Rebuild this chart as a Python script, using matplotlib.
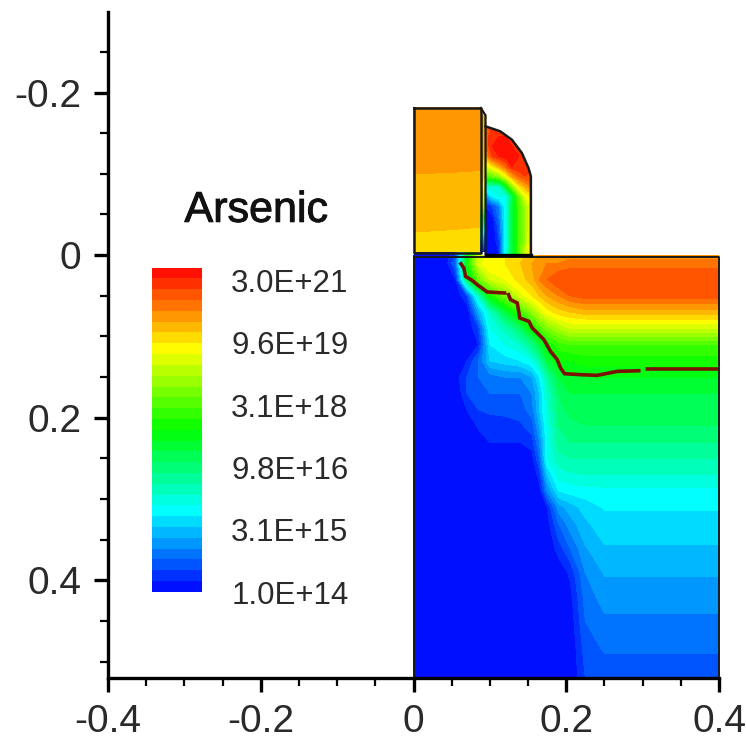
import numpy as np
import matplotlib
matplotlib.use("Agg")
import matplotlib.pyplot as plt
import matplotlib.patheffects as pe
from matplotlib.colors import LinearSegmentedColormap, Normalize
from matplotlib.patches import Polygon
from matplotlib.ticker import MultipleLocator

plt.rcParams['font.family'] = ['Liberation Sans', 'DejaVu Sans']

# arsenic levels are given as colour band numbers, 0 = 1.0E+14 up to 30 = 3.0E+21
n_bands = 30
legend_labels = ['3.0E+21', '9.6E+19', '3.1E+18', '9.8E+16', '3.1E+15', '1.0E+14']
legend_y = [0.0350, 0.1118, 0.1886, 0.2654, 0.3420, 0.4188]
x_ticks = [-0.4, -0.2, 0, 0.2, 0.4]
y_ticks = [-0.2, 0, 0.2, 0.4]

# silicon
si_x = [0, .04, .055, .07, .085, .10, .12, .14, .155, .165, .175, .19, .205, .225, .25, .30, .40]
si_y = [0, .01, .03, .05, .07, .09, .11, .13, .15, .17, .19, .21, .23, .25, .27, .29, .31, .33,
        .36, .39, .42, .45, .48, .52]
si_band = [
    [0, 0, 2, 14, 21, 22.5, 23, 23.5, 24.5, 25, 25.5, 25.5, 25.5, 25.5, 25.5, 25.5, 25.5],
    [0, 0, 3, 15, 21.5, 23, 23, 24, 25, 25.5, 26, 26, 26.5, 26.5, 26.5, 26.5, 26.5],
    [0, 0, 1, 12, 18, 21, 22, 23.5, 24.5, 26, 27, 28, 28, 28, 28, 28, 28],
    [0, 0, 0, 2, 9, 15, 18.5, 21.5, 23, 24, 25, 26, 27, 27.5, 27.5, 27.5, 27.5],
    [0, 0, 0, 0, 5, 9, 13, 16.5, 19, 21, 22.5, 23.5, 24, 24.5, 24.5, 24.5, 24.5],
    [0, 0, 0, 0, 2, 8, 9.5, 12, 15, 17, 18.5, 20, 21, 21, 21, 21, 21],
    [0, 0, 0, 0, 1, 7, 8, 9, 11, 13, 15, 16.5, 17, 17, 17, 17, 17],
    [0, 0, 0, 1, 3, 6, 6.5, 7, 8, 10, 13, 15, 15, 15.5, 15.5, 15.5, 15.5],
    [0, 0, .5, 2, 3, 3.5, 4, 4, 5, 7, 10, 13, 13.5, 14, 14, 14, 14],
    [0, 0, 0, 2, 2.5, 3, 3, 3, 4, 6, 9, 12, 13, 13, 13, 13, 13],
    [0, 0, 0, 1, 2, 2.2, 2.2, 2.5, 3.5, 6, 8.5, 11.5, 12.5, 12.5, 12.5, 12.5, 12.5],
    [0, 0, 0, 0, 1.2, 1.5, 1.7, 1.8, 2.5, 5, 8, 11, 11.5, 12, 12, 12, 12],
    [0, 0, 0, 0, .3, 1, 1, 1, 1.5, 4, 7.8, 10.5, 11, 11, 11, 11, 11],
    [0, 0, 0, 0, 0, 0, 0, 0, .5, 3, 8, 9.5, 10, 10, 10, 10, 10],
    [0, 0, 0, 0, 0, 0, 0, 0, 0, 1.5, 6, 8.5, 8.8, 9, 9, 9, 9],
    [0, 0, 0, 0, 0, 0, 0, 0, 0, .5, 4, 7, 7.4, 7.6, 7.7, 7.7, 7.7],
    [0, 0, 0, 0, 0, 0, 0, 0, 0, 0, 1, 4.5, 5.5, 6.4, 7.1, 7.1, 7.1],
    [0, 0, 0, 0, 0, 0, 0, 0, 0, 0, .5, 3, 4.5, 5.8, 6.6, 6.6, 6.6],
    [0, 0, 0, 0, 0, 0, 0, 0, 0, 0, 0, 1.5, 3, 4.9, 5.9, 5.9, 5.9],
    [0, 0, 0, 0, 0, 0, 0, 0, 0, 0, 0, .3, 1.2, 4, 5.1, 5.1, 5.1],
    [0, 0, 0, 0, 0, 0, 0, 0, 0, 0, 0, 0, .6, 3.4, 4.45, 4.45, 4.45],
    [0, 0, 0, 0, 0, 0, 0, 0, 0, 0, 0, 0, .3, 3, 3.8, 3.8, 3.8],
    [0, 0, 0, 0, 0, 0, 0, 0, 0, 0, 0, 0, .1, 2.5, 3.2, 3.2, 3.2],
    [0, 0, 0, 0, 0, 0, 0, 0, 0, 0, 0, 0, 0, 2, 2.4, 2.4, 2.4],
]

# spacer
sp_x = [.0943, .103, .112, .121, .129, .138, .147, .154]
sp_y = [-.1584, -.1461, -.1338, -.1215, -.1092, -.0969, -.0846, -.0723, -.060, -.0395, -.019, -.0006]
sp_band = [
    [27, 28, 28, 27, 26, 26, 26, 26],
    [27, 29, 29, 29, 28, 27, 27, 27],
    [27, 29, 29.5, 29.5, 29, 28.5, 27, 27],
    [25, 28, 29, 29.5, 29.5, 29, 28, 27],
    [21, 23, 25, 27, 29, 29, 28.5, 28],
    [17, 18, 19, 22, 25, 27, 28, 28],
    [9, 9, 9, 14, 19, 23, 25, 26],
    [4, 7, 8, 8, 12, 18, 22, 23],
    [1, 2, 4, 8, 13, 17, 20, 22],
    [0, 0, 3, 8, 13, 17, 20, 22],
    [0, 0, 2, 8, 13, 17, 20, 23],
    [0, 0, 1, 8, 13, 17, 21, 23],
]
sp_outline_x = [.0943, .1135, .1288, .1419, .1506, .1537, .1537, .0943]
sp_outline_y = [-.1584, -.1523, -.1420, -.1256, -.1071, -.0969, -.0006, -.0006]

# gate
gate_x = [0, .088]
gate_y = [-.181, -.1015, -.031, -.004]
gate_band = [[25.6, 25.6], [25.02, 24.98], [24.05, 23.95], [23.5, 23.4]]

# liner between gate and spacer
liner_x = [.088, .0943]
liner_y = [-.172, -.10, -.06, -.03, -.004]
liner_band = [[25, 25], [24, 23], [21, 18], [10, 6], [1, 0]]

# gate oxide
oxide_x = [0, .05, .06, .07, .088]
oxide_y = [-.004, 0]
oxide_band = [[0, 0, 6, 13, 18], [0, 0, 6, 13, 18]]

# junction line, with its two small breaks
junction_x = [.0607, .0659, .0681, .0768, .0834, .0965, .1183, .1215, np.nan, .1235, .127, .1358, .1392, .151,
              .1554, .162, .1707, .1794, .1882, .1925, .1978, .2187, .2406, .2668, .2973, np.nan, .3039, .4]
junction_y = [.0088, .0158, .0261, .031, .0363, .0453, .0465, .0465, np.nan, .0465, .0547, .0588, .0773, .0814,
              .0895, .0957, .1039, .1183, .1285, .1388, .1458, .147, .1478, .1429, .1421, np.nan, .14, .14]

cmap = LinearSegmentedColormap.from_list(
    'tec', ['#0000ff', '#00ffff', '#00ff00', '#ffff00', '#ff0000'])
norm = Normalize(0, n_bands)
levels = np.arange(n_bands + 1)

fig = plt.figure(figsize=(7.46, 7.42), dpi=100)
ax = fig.add_axes([108 / 746, 1 - 678 / 742, (719 - 108) / 746, (678 - 12) / 742])
ax.set_xlim(-0.4, 0.4)
ax.set_ylim(0.52, -0.299)

ax.contourf(si_x, si_y, si_band, levels=levels, cmap=cmap, norm=norm)
ax.contourf(gate_x, gate_y, gate_band, levels=levels, cmap=cmap, norm=norm)
ax.contourf(liner_x, liner_y, liner_band, levels=levels, cmap=cmap, norm=norm)
ax.contourf(oxide_x, oxide_y, oxide_band, levels=levels, cmap=cmap, norm=norm)

spacer = ax.contourf(sp_x, sp_y, sp_band, levels=levels, cmap=cmap, norm=norm)
clip = Polygon(np.column_stack([sp_outline_x, sp_outline_y]), closed=True, transform=ax.transData)
spacer.set_clip_path(clip)

ax.plot(junction_x, junction_y, color='#7a1200', lw=2.6, solid_joinstyle='miter', solid_capstyle='butt')

# outlines
edge = '#1a1a1a'
ax.plot([0, .088, .088, 0, 0], [-.181, -.181, -.003, -.003, -.181], color=edge, lw=1.8)
ax.plot([.088, .0943, .0943], [-.181, -.172, -.0006], color=edge, lw=1.6)
ax.plot(sp_outline_x[:7], sp_outline_y[:7], color=edge, lw=1.8)
ax.plot([0, .4, .4], [.002, .002, .52], color=edge, lw=1.4, clip_on=False)
ax.plot([.0943, .1537], [0, 0], color='black', lw=2.4)
ax.plot([0, 0], [.002, .52], color=edge, lw=1.4)

# legend bar
bar_edges = np.linspace(.414, .0154, n_bands + 1)
bar_x = [-.3418, -.2764]
bar_band = (levels[:-1] + 0.5).reshape(-1, 1)
ax.pcolormesh(bar_x, bar_edges, bar_band, cmap=cmap, norm=norm)

title = ax.text(-.206, -.0545, 'Arsenic', fontsize=31, color='#111111', ha='center', va='center')
title.set_path_effects([pe.withStroke(linewidth=0.7, foreground='#111111')])
for lab, yy in zip(legend_labels, legend_y):
    ax.text(-.0851, yy, lab, fontsize=22.5, color='#2a2a2a', ha='right', va='center')

ax.spines['top'].set_visible(False)
ax.spines['right'].set_visible(False)
ax.spines['left'].set_linewidth(2.4)
ax.spines['bottom'].set_linewidth(2.4)
ax.set_xticks(x_ticks)
ax.set_xticklabels(['-0.4', '-0.2', '0', '0.2', '0.4'])
ax.set_yticks(y_ticks)
ax.set_yticklabels(['-0.2', '0', '0.2', '0.4'])
ax.xaxis.set_minor_locator(MultipleLocator(0.05))
ax.yaxis.set_minor_locator(MultipleLocator(0.05))
ax.tick_params(which='major', length=10, width=2.4, labelsize=28, labelcolor='#2a2a2a', pad=9)
ax.tick_params(axis='y', which='major', pad=9)
ax.tick_params(which='minor', length=5.5, width=1.6)

fig.savefig('out.png', dpi=100)
